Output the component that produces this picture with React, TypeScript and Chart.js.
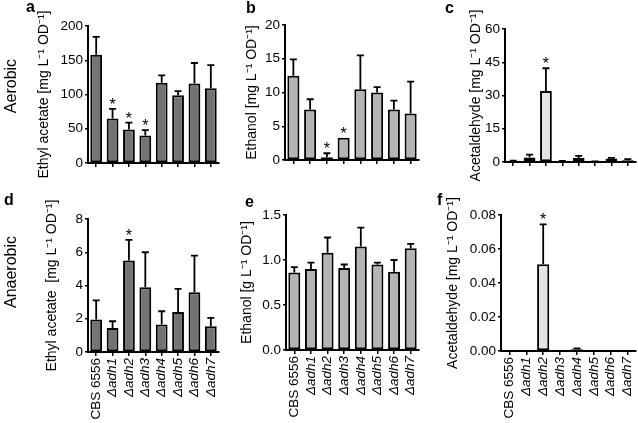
import React, { useEffect, useRef } from "react";
import { Chart, registerables } from "chart.js";

Chart.register(...registerables);

const FONT = "'Liberation Sans', Arial, Helvetica, sans-serif";
const PAGE_W = 638;
const PAGE_H = 423;

// ---------- data ----------
const strains = ["CBS 6556", "Δadh1", "Δadh2", "Δadh3", "Δadh4", "Δadh5", "Δadh6", "Δadh7"];

// Aerobic
const ethylAcetateAerobic = [158, 65, 49, 40, 117, 99, 116, 109];
const ethylAcetateAerobicErr = [26, 14, 10, 8, 11, 6, 30, 34];
const ethylAcetateAerobicStar = [false, true, true, true, false, false, false, false];
const ethylAcetateAerobicTicks = [0, 50, 100, 150, 200];

const ethanolAerobic = [12.5, 7.5, 0.4, 3.3, 10.5, 10.0, 7.5, 6.9];
const ethanolAerobicErr = [2.4, 1.5, 0.6, 0, 5.0, 0.8, 1.3, 4.7];
const ethanolAerobicStar = [false, false, true, true, false, false, false, false];
const ethanolAerobicTicks = [0, 5, 10, 15, 20];

const acetaldehydeAerobic = [0.3, 2.0, 32, 0.3, 1.8, 0.2, 1.6, 0.8];
const acetaldehydeAerobicErr = [0.3, 1.3, 10.3, 0.2, 1.0, 0.1, 0.3, 0.5];
const acetaldehydeAerobicStar = [false, false, true, false, false, false, false, false];
const acetaldehydeAerobicTicks = [0, 15, 30, 45, 60];

// Anaerobic
const ethylAcetateAnaerobic = [1.95, 1.45, 5.5, 3.9, 1.65, 2.4, 3.6, 1.55];
const ethylAcetateAnaerobicErr = [1.15, 0.4, 1.25, 2.1, 0.8, 1.4, 2.2, 0.5];
const ethylAcetateAnaerobicStar = [false, false, true, false, false, false, false, false];
const ethylAcetateAnaerobicTicks = [0, 2, 4, 6, 8];

const ethanolAnaerobic = [0.86, 0.9, 1.08, 0.91, 1.15, 0.95, 0.87, 1.13];
const ethanolAnaerobicErr = [0.06, 0.07, 0.17, 0.04, 0.21, 0.02, 0.13, 0.05];
const ethanolAnaerobicStar = [false, false, false, false, false, false, false, false];
const ethanolAnaerobicTicks = [0, 0.5, 1.0, 1.5];

const acetaldehydeAnaerobic = [0, 0, 0.051, 0, 0.001, 0, 0, 0];
const acetaldehydeAnaerobicErr = [0, 0, 0.0235, 0, 0.0006, 0, 0, 0];
const acetaldehydeAnaerobicStar = [false, false, true, false, false, false, false, false];
const acetaldehydeAnaerobicTicks = [0, 0.02, 0.04, 0.06, 0.08];

// ---------- styling / layout ----------
const DARK = "#737373";
const MID = "#b4b4b4";
const LIGHT = "#e4e4e4";

type Panel = {
  values: number[];
  errors: number[];
  stars: boolean[];
  ticks: number[];
  decimals: number;
  color: string;
  title: string;
  showLabels: boolean;
  left: number;
  right: number;
  top: number;
  bottom: number;
  titleX: number;
};

const panels: Panel[] = [
  {
    values: ethylAcetateAerobic, errors: ethylAcetateAerobicErr, stars: ethylAcetateAerobicStar,
    ticks: ethylAcetateAerobicTicks, decimals: 0, color: DARK,
    title: "Ethyl acetate [mg L⁻¹ OD⁻¹]", showLabels: false,
    left: 88, right: 219, top: 26, bottom: 163, titleX: 44,
  },
  {
    values: ethanolAerobic, errors: ethanolAerobicErr, stars: ethanolAerobicStar,
    ticks: ethanolAerobicTicks, decimals: 0, color: MID,
    title: "Ethanol [mg L⁻¹ OD⁻¹]", showLabels: false,
    left: 285, right: 419, top: 25, bottom: 160, titleX: 252,
  },
  {
    values: acetaldehydeAerobic, errors: acetaldehydeAerobicErr, stars: acetaldehydeAerobicStar,
    ticks: acetaldehydeAerobicTicks, decimals: 0, color: LIGHT,
    title: "Acetaldehyde [mg L⁻¹ OD⁻¹]", showLabels: false,
    left: 505, right: 636, top: 29, bottom: 162, titleX: 476,
  },
  {
    values: ethylAcetateAnaerobic, errors: ethylAcetateAnaerobicErr, stars: ethylAcetateAnaerobicStar,
    ticks: ethylAcetateAnaerobicTicks, decimals: 0, color: DARK,
    title: "Ethyl acetate  [mg L⁻¹ OD⁻¹]", showLabels: true,
    left: 88, right: 219, top: 219, bottom: 352, titleX: 52,
  },
  {
    values: ethanolAnaerobic, errors: ethanolAnaerobicErr, stars: ethanolAnaerobicStar,
    ticks: ethanolAnaerobicTicks, decimals: 1, color: MID,
    title: "Ethanol [g L⁻¹ OD⁻¹]", showLabels: true,
    left: 286, right: 419, top: 215, bottom: 350, titleX: 247,
  },
  {
    values: acetaldehydeAnaerobic, errors: acetaldehydeAnaerobicErr, stars: acetaldehydeAnaerobicStar,
    ticks: acetaldehydeAnaerobicTicks, decimals: 2, color: LIGHT,
    title: "Acetaldehyde [mg L⁻¹ OD⁻¹]", showLabels: true,
    left: 501, right: 636, top: 215, bottom: 351, titleX: 453,
  },
];

const TITLE_SIZE = 14;
const TICK_SIZE = 13.5;

function overlayPlugin(errors: number[], stars: boolean[]) {
  return {
    id: "errbars",
    afterDatasetsDraw(chart: any) {
      const ctx = chart.ctx as CanvasRenderingContext2D;
      const meta = chart.getDatasetMeta(0);
      const yScale = chart.scales.y;
      const vals = chart.data.datasets[0].data as number[];
      ctx.save();
      ctx.strokeStyle = "#000";
      ctx.fillStyle = "#000";
      ctx.lineWidth = 1.8;
      meta.data.forEach((bar: any, i: number) => {
        const v = vals[i];
        const e = errors[i];
        const x = bar.x;
        const yv = yScale.getPixelForValue(v);
        let top = yv;
        if (e > 0) {
          const ye = yScale.getPixelForValue(v + e);
          top = ye;
          ctx.beginPath();
          ctx.moveTo(x, yv);
          ctx.lineTo(x, ye);
          ctx.moveTo(x - 3.5, ye);
          ctx.lineTo(x + 3.5, ye);
          ctx.stroke();
        }
        if (stars[i]) {
          ctx.font = `16px ${FONT}`;
          ctx.textAlign = "center";
          ctx.textBaseline = "alphabetic";
          ctx.fillText("*", x, top + 1);
        }
      });
      ctx.restore();
    },
  };
}

function makeChart(canvas: HTMLCanvasElement, p: Panel) {
  const lineH = TITLE_SIZE * 1.2;
  const padLeft = p.titleX - lineH / 2;
  const yWidth = p.left - padLeft;
  const xHeight = PAGE_H - p.bottom;
  return new Chart(canvas, {
    type: "bar",
    data: {
      labels: strains,
      datasets: [
        {
          data: p.values,
          backgroundColor: p.color,
          borderColor: "#000",
          borderWidth: 2,
          borderSkipped: false,
          barPercentage: 0.72,
          categoryPercentage: 1,
        },
      ],
    },
    options: {
      responsive: false,
      animation: false,
      events: [],
      layout: {
        padding: { left: padLeft, top: p.top, right: PAGE_W - p.right, bottom: 0 },
      },
      plugins: {
        legend: { display: false },
        tooltip: { enabled: false },
        title: { display: false },
      },
      scales: {
        x: {
          type: "category",
          offset: true,
          grid: {
            display: true,
            drawOnChartArea: false,
            drawTicks: true,
            tickLength: 4,
            offset: false,
            color: "#000",
            lineWidth: 1.5,
          },
          border: { display: true, color: "#000", width: 2 },
          ticks: {
            display: p.showLabels,
            autoSkip: false,
            maxRotation: 90,
            minRotation: 90,
            padding: 2,
            color: "#000",
            font: (ctx: any) => ({
              family: FONT,
              size: TICK_SIZE,
              style: ctx.index === 0 ? "normal" : "italic",
            }),
          },
          afterFit: (s: any) => {
            s.height = xHeight;
            s.paddingLeft = 0;
            s.paddingRight = 0;
          },
        },
        y: {
          type: "linear",
          min: p.ticks[0],
          max: p.ticks[p.ticks.length - 1],
          grid: {
            display: true,
            drawOnChartArea: false,
            drawTicks: true,
            tickLength: 3,
            color: "#000",
            lineWidth: 1.5,
          },
          border: { display: true, color: "#000", width: 2 },
          afterBuildTicks: (s: any) => {
            s.ticks = p.ticks.map((v) => ({ value: v }));
          },
          ticks: {
            padding: 2,
            color: "#000",
            font: { family: FONT, size: TICK_SIZE },
            callback: (v: any) => Number(v).toFixed(p.decimals),
          },
          title: {
            display: true,
            text: p.title,
            color: "#000",
            padding: 0,
            font: { family: FONT, size: TITLE_SIZE },
          },
          afterFit: (s: any) => {
            s.width = yWidth;
          },
        },
      },
    },
    plugins: [overlayPlugin(p.errors, p.stars)],
  } as any);
}

const letterStyle: React.CSSProperties = {
  position: "absolute",
  fontFamily: FONT,
  fontWeight: "bold",
  fontSize: 16,
  lineHeight: "16px",
  color: "#000",
  margin: 0,
};

const rowStyle = (cx: number, cy: number): React.CSSProperties => ({
  position: "absolute",
  left: cx,
  top: cy,
  transform: "translate(-50%, -50%) rotate(-90deg)",
  fontFamily: FONT,
  fontSize: 16,
  lineHeight: "16px",
  whiteSpace: "nowrap",
  color: "#000",
});

const panelLetters = [
  { t: "a", x: 26, y: -1.5 },
  { t: "b", x: 246, y: -0.5 },
  { t: "c", x: 445, y: -0.5 },
  { t: "d", x: 4, y: 191.5 },
  { t: "e", x: 245, y: 193.5 },
  { t: "f", x: 437, y: 191.5 },
];

export default function App() {
  const refs = useRef<(HTMLCanvasElement | null)[]>([]);

  useEffect(() => {
    const charts = panels.map((p, i) => makeChart(refs.current[i] as HTMLCanvasElement, p));
    return () => charts.forEach((c) => c.destroy());
  }, []);

  return (
    <div
      style={{
        position: "absolute",
        left: 0,
        top: 0,
        width: PAGE_W,
        height: PAGE_H,
        overflow: "hidden",
        background: "#fff",
      }}
    >
      {panels.map((_, i) => (
        <canvas
          key={i}
          ref={(el) => {
            refs.current[i] = el;
          }}
          width={PAGE_W}
          height={PAGE_H}
          style={{ position: "absolute", left: 0, top: 0, width: PAGE_W, height: PAGE_H }}
        />
      ))}
      {panelLetters.map((l) => (
        <div key={l.t} style={{ ...letterStyle, left: l.x, top: l.y }}>
          {l.t}
        </div>
      ))}
      <div style={rowStyle(11, 86)}>Aerobic</div>
      <div style={rowStyle(11, 272)}>Anaerobic</div>
    </div>
  );
}
